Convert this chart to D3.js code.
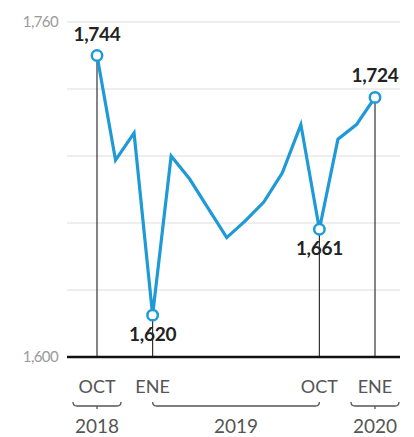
<!DOCTYPE html>
<html>
<head>
<meta charset="utf-8">
<script src="https://cdn.jsdelivr.net/npm/d3@7"></script>
<style>
  body { margin: 0; background: #fff; }
  text { font-family: Lato, "Open Sans", sans-serif; }
</style>
</head>
<body>
<svg id="chart" width="414" height="437"></svg>
<script>
// data: monthly values, Oct 2018 .. Jan 2020
const months = ['2018-10', '2018-11', '2018-12', '2019-01', '2019-02', '2019-03', '2019-04', '2019-05',
    '2019-06', '2019-07', '2019-08', '2019-09', '2019-10', '2019-11', '2019-12', '2020-01'];
const values = [1744, 1694, 1707, 1620, 1696, 1685, 1671, 1657, 1665, 1674, 1688, 1711, 1661, 1704, 1711, 1724];
// highlighted points (index into months) and where their label goes
const highlights = [0, 3, 12, 15];
const labelAbove = [true, false, false, true];
const monthTicks = [[0, 'OCT'], [3, 'ENE'], [12, 'OCT'], [15, 'ENE']];
const years = [['2018', 0, 0], ['2019', 3, 12], ['2020', 15, 15]];
const yTicks = [1600, 1632, 1664, 1696, 1728, 1760];
const yTickLabels = ['1,600', '', '', '', '', '1,760'];

let svg = d3.select('#chart');
let plotLeft = 67, plotRight = 400, plotTop = 22, plotBottom = 357;

let x = d3.scalePoint()
    .domain(months)
    .range([97, 375]);

let y = d3.scaleLinear()
    .domain([1600, 1760])
    .range([plotBottom, plotTop]);

let fmt = d3.format(',');

// gridlines
svg.append('g')
    .selectAll('line')
    .data(yTicks.slice(1))
    .enter()
    .append('line')
    .attr('x1', plotLeft)
    .attr('x2', plotRight)
    .attr('y1', d => y(d))
    .attr('y2', d => y(d))
    .attr('stroke', '#dedede')
    .attr('stroke-width', 1.2);

// y labels
svg.append('g')
    .selectAll('text')
    .data(yTicks)
    .enter()
    .append('text')
    .attr('x', 58)
    .attr('y', d => y(d) + 5)
    .attr('text-anchor', 'end')
    .attr('font-size', 15)
    .attr('fill', '#9a9a9a')
    .attr('letter-spacing', -0.6)
    .text((d, i) => yTickLabels[i]);

// vertical drop lines
svg.append('g')
    .selectAll('line')
    .data(highlights)
    .enter()
    .append('line')
    .attr('x1', i => x(months[i]))
    .attr('x2', i => x(months[i]))
    .attr('y1', i => y(values[i]))
    .attr('y2', plotBottom)
    .attr('stroke', '#333')
    .attr('stroke-width', 1.2);

// baseline
svg.append('line')
    .attr('x1', plotLeft)
    .attr('x2', plotRight)
    .attr('y1', plotBottom)
    .attr('y2', plotBottom)
    .attr('stroke', '#111')
    .attr('stroke-width', 2.5);

// the line
let line = d3.line()
    .x((d, i) => x(months[i]))
    .y(d => y(d));

svg.append('path')
    .datum(values)
    .attr('d', line)
    .attr('fill', 'none')
    .attr('stroke', '#1e9ad6')
    .attr('stroke-width', 3.2)
    .attr('stroke-linejoin', 'miter');

// markers
svg.append('g')
    .selectAll('circle')
    .data(highlights)
    .enter()
    .append('circle')
    .attr('cx', i => x(months[i]))
    .attr('cy', i => y(values[i]))
    .attr('r', 5.2)
    .attr('fill', '#fff')
    .attr('stroke', '#1e9ad6')
    .attr('stroke-width', 2.5);

// value labels
svg.append('g')
    .selectAll('text')
    .data(highlights)
    .enter()
    .append('text')
    .attr('x', i => x(months[i]))
    .attr('y', (i, k) => labelAbove[k] ? y(values[i]) - 15 : y(values[i]) + 26)
    .attr('text-anchor', 'middle')
    .attr('font-size', 19)
    .attr('font-weight', 'bold')
    .attr('fill', '#222')
    .attr('letter-spacing', -0.3)
    .text(i => fmt(values[i]));

// month labels
svg.append('g')
    .selectAll('text')
    .data(monthTicks)
    .enter()
    .append('text')
    .attr('x', d => x(months[d[0]]))
    .attr('y', 393)
    .attr('text-anchor', 'middle')
    .attr('font-size', 18)
    .attr('fill', '#555')
    .text(d => d[1]);

// year brackets
let pad = 24;
let bracket = svg.append('g')
    .attr('fill', 'none')
    .attr('stroke', '#555')
    .attr('stroke-width', 1.3);

years.forEach(function (yr) {
    let x0 = x(months[yr[1]]), x1 = x(months[yr[2]]);
    if (yr[1] === yr[2]) { x0 -= pad; x1 += pad; }
    let by = 406;
    bracket.append('path')
        .attr('d', 'M' + x0 + ',' + (by - 4) + 'Q' + x0 + ',' + by + ' ' + (x0 + 4) + ',' + by +
            'L' + (x1 - 4) + ',' + by + 'Q' + x1 + ',' + by + ' ' + x1 + ',' + (by - 4));
    if (yr[1] === yr[2]) {
        let xm = (x0 + x1) / 2;
        bracket.append('line')
            .attr('x1', xm).attr('x2', xm)
            .attr('y1', by).attr('y2', by + 3);
    }
    svg.append('text')
        .attr('x', (x0 + x1) / 2)
        .attr('y', 433)
        .attr('text-anchor', 'middle')
        .attr('font-size', 19)
        .attr('fill', '#555')
        .text(yr[0]);
});
</script>
</body>
</html>
